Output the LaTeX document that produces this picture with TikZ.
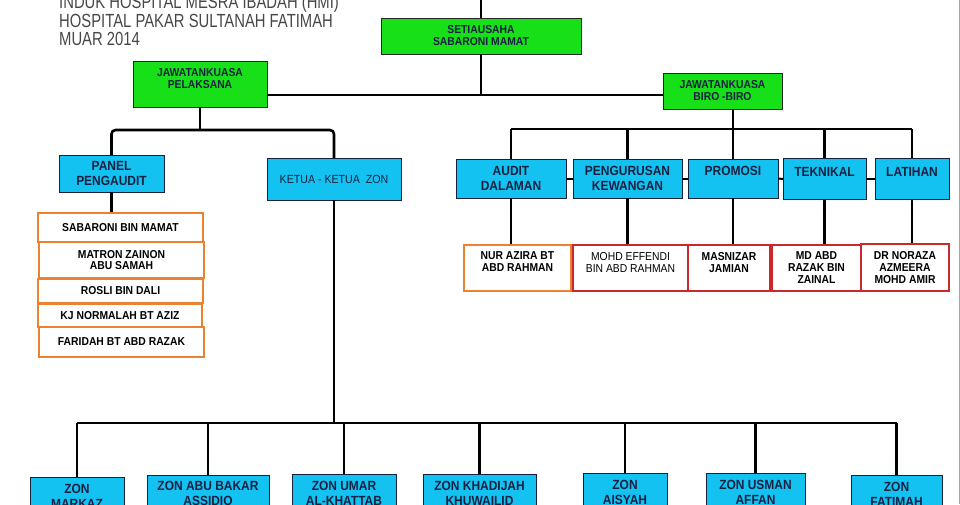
\documentclass[tikz,border=0pt]{standalone}
\usepackage{fontspec}
\setmainfont{Liberation Sans}
\newfontfamily\chartfont[FakeStretch=0.9]{Liberation Sans}
\newfontfamily\titlefont[FakeStretch=0.78]{Liberation Sans}
\definecolor{boxgreen}{RGB}{24,224,24}
\definecolor{boxcyan}{RGB}{20,194,242}
\definecolor{inknavy}{RGB}{22,32,64}
\definecolor{lineorange}{RGB}{234,130,50}
\definecolor{linered}{RGB}{204,40,44}
\begin{document}
\begin{tikzpicture}[x=1pt,y=-1pt,font=\chartfont,
  conn/.style={line width=2.6pt},
  titletext/.style={inner sep=0pt,text=black!72,font=\titlefont\fontsize{19}{19}\selectfont},
  greenbox/.style={draw=black!85,fill=boxgreen,text=inknavy,align=center,inner sep=0pt,font=\chartfont\fontsize{11.5}{12}\selectfont\bfseries},
  cyanbox/.style={draw=inknavy,fill=boxcyan,text=inknavy,align=center,inner sep=0pt,font=\chartfont\fontsize{13.3}{15}\selectfont\bfseries},
  memberbox/.style={draw=lineorange,line width=1.1pt,fill=white,align=center,inner sep=0pt,font=\chartfont\fontsize{11.5}{11}\selectfont\bfseries},
  personbox/.style={draw=linered,line width=1.1pt,fill=white,align=center,inner sep=0pt,font=\chartfont\fontsize{11.5}{12}\selectfont\bfseries}]
\useasboundingbox (0,0) rectangle (960,504);

\node[titletext,anchor=base west] (title1) at (59,8.5) {INDUK HOSPITAL MESRA IBADAH (HMI)};
\node[titletext,anchor=base west] (title2) at (59,27) {HOSPITAL PAKAR SULTANAH FATIMAH};
\node[titletext,anchor=base west] (title3) at (59,45.5) {MUAR 2014};

\node[greenbox,minimum width=200pt,minimum height=36pt] (sec) at (481,36) {SETIAUSAHA\\SABARONI MAMAT};
\node[greenbox,minimum width=134pt,minimum height=46pt] (pel) at (200,84) {JAWATANKUASA\\PELAKSANA\\~};
\node[greenbox,minimum width=119pt,minimum height=36pt] (biro) at (722.5,91) {JAWATANKUASA\\BIRO -BIRO};

\node[cyanbox,minimum width=105pt,minimum height=37pt] (panel) at (111.5,173.5) {PANEL\\PENGAUDIT};
\node[cyanbox,minimum width=134pt,minimum height=42pt,font=\chartfont\fontsize{11.8}{12}\selectfont] (ketua) at (334,179) {KETUA - KETUA\ \ ZON};

\node[memberbox,minimum width=165pt,minimum height=29pt] (m1) at (120.5,227.5) {SABARONI BIN MAMAT};
\node[memberbox,minimum width=165pt,minimum height=36pt] (m2) at (121.5,260) {MATRON ZAINON\\ABU SAMAH};
\node[memberbox,minimum width=165pt,minimum height=24pt] (m3) at (120.5,291) {ROSLI BIN DALI};
\node[memberbox,minimum width=164pt,minimum height=23pt] (m4) at (120,315.5) {KJ NORMALAH BT AZIZ};
\node[memberbox,minimum width=165pt,minimum height=30pt] (m5) at (121.5,342) {FARIDAH BT ABD RAZAK};

\node[cyanbox,minimum width=110pt,minimum height=39pt] (audit) at (511,178.5) {AUDIT\\DALAMAN};
\node[cyanbox,minimum width=109pt,minimum height=39pt] (peng) at (627.5,178.5) {PENGURUSAN\\KEWANGAN};
\node[cyanbox,minimum width=90pt,minimum height=39pt] (promo) at (733,178.5) {PROMOSI\\~};
\node[cyanbox,minimum width=83pt,minimum height=41pt] (tek) at (824.5,179) {TEKNIKAL\\~};
\node[cyanbox,minimum width=74pt,minimum height=41pt] (lat) at (912,179) {LATIHAN\\~};

\node[personbox,draw=lineorange,minimum width=107pt,minimum height=46pt] (nur) at (517.5,268) {NUR AZIRA BT\\ABD RAHMAN\\~};
\node[personbox,minimum width=115pt,minimum height=46pt,font=\chartfont\fontsize{11.5}{12}\selectfont] (mohd) at (630.5,268) {MOHD EFFENDI\\BIN ABD RAHMAN\\~};
\node[personbox,minimum width=82pt,minimum height=46pt] (mas) at (729,268) {MASNIZAR\\JAMIAN\\~};
\node[personbox,minimum width=89pt,minimum height=46pt] (md) at (816.5,268) {MD ABD\\RAZAK BIN\\ZAINAL};
\node[personbox,minimum width=88pt,minimum height=47pt] (dr) at (905,267.5) {DR NORAZA\\AZMEERA\\MOHD AMIR};

\node[cyanbox,minimum width=94pt,minimum height=39pt] (z1) at (77,496.5) {ZON\\MARKAZ};
\node[cyanbox,minimum width=122pt,minimum height=39pt] (z2) at (208,494.5) {ZON ABU BAKAR\\ASSIDIQ};
\node[cyanbox,minimum width=104pt,minimum height=39pt] (z3) at (344,493.5) {ZON UMAR\\AL-KHATTAB};
\node[cyanbox,minimum width=113pt,minimum height=39pt] (z4) at (479.5,493.5) {ZON KHADIJAH\\KHUWAILID};
\node[cyanbox,minimum width=84pt,minimum height=39pt] (z5) at (625,492.5) {ZON\\AISYAH};
\node[cyanbox,minimum width=99pt,minimum height=39pt] (z6) at (755.5,492.5) {ZON USMAN\\AFFAN};
\node[cyanbox,minimum width=91pt,minimum height=39pt] (z7) at (896.5,494.5) {ZON\\FATIMAH};

% connectors
\coordinate (top) at (481,0);
\coordinate (hub) at (481,95);
\coordinate (pbar) at (200,130);
\coordinate (bbar) at (730,129);
\coordinate (zbar) at (336,423);

\draw[conn] (top) -- (sec.north);
\draw[conn] (sec.south) -- (hub);
\draw[conn] (pel.east |- hub) -- (biro.west |- hub);
\draw[conn] (pel.south) -- (pel.south |- pbar);
\draw[conn,rounded corners=4pt] (panel.north) |- (pbar) -| (ketua.north);
\draw[conn] (panel.south) -- (panel.south |- m1.north);

\draw[conn] (ketua.south) -- (ketua.south |- zbar);
\draw[conn] (z1.north |- zbar) -- (z7.north |- zbar);
\foreach \z in {z1,z2,z3,z4,z5,z6,z7}
  \draw[conn] (\z.north) -- (\z.north |- zbar);

\draw[conn] (biro.south -| promo.north) -- (promo.north);
\draw[conn] (audit.north |- bbar) -- (lat.north |- bbar);
\foreach \s/\p in {audit/nur,peng/mohd,promo/mas,tek/md,lat/dr}{
  \draw[conn] (\s.north) -- (\s.north |- bbar);
  \draw[conn] (\s.south) -- (\s.south |- \p.north);
}
\foreach \a/\b in {audit/peng,peng/promo,promo/tek,tek/lat}
  \draw[line width=2pt] (\a.east) -- (\b.west);

\draw[black!35,line width=1pt] (959,0) -- (959,504);
\end{tikzpicture}
\end{document}
